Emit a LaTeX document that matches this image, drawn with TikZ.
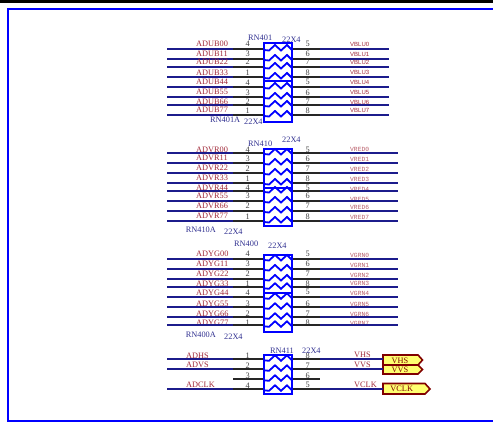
\documentclass[tikz,border=0pt]{standalone}
\usepackage{fontspec}
\setmainfont{Liberation Serif}
\newfontfamily\monof{Liberation Mono}
\newfontfamily\sansf{Liberation Sans}
\definecolor{netblue}{HTML}{1C1C8C}
\definecolor{partblue}{HTML}{0000FF}
\definecolor{lblred}{HTML}{A02838}
\definecolor{lblblue}{HTML}{303090}
\definecolor{flagred}{HTML}{800000}
\definecolor{flagfill}{HTML}{FFFF70}
\tikzset{
  wirenet/.style={draw=netblue,line width=2pt},
  wirepin/.style={draw=black!85,line width=2pt},
  partbox/.style={draw=partblue,line width=2.4pt,fill=white},
  zig/.style={draw=partblue,line width=1.8pt},
  frameline/.style={draw=partblue,line width=2.3pt},
  txt/.style={inner sep=0pt,font=\fontsize{8.3}{9}\selectfont},
  netlbl/.style={txt,anchor=west,text=lblred},
  pinlbl/.style={txt,text=black!75},
  reflbl/.style={txt,anchor=west,text=lblblue},
  smallsans/.style={inner sep=0pt,anchor=west,text=lblred,font=\sansf\fontsize{6}{6}\selectfont},
  smallmono/.style={inner sep=0pt,anchor=west,text=lblred!75,font=\monof\fontsize{6.3}{6}\selectfont},
  flag/.style={draw=flagred,line width=1.6pt,fill=flagfill},
}
% #1 id, #2 wire y, #3 left label, #4 label y, #5 left pin, #6 right pin, #7 right label, #8 right label y, #9 style
\newcommand{\pinrow}[9]{%
  \node[netlbl] (ln#1) at (196,#4) {#3};
  \node[pinlbl] (pl#1) at (247.7,#4) {#5};
  \node[pinlbl] (pr#1) at (307.7,#4) {#6};
  \node[#9] (rn#1) at (350,#8) {#7};
  \coordinate (la#1) at (167,#2);
  \coordinate (lb#1) at (233,#2);
  \coordinate (lc#1) at (264,#2);
  \coordinate (rc#1) at (292,#2);
  \coordinate (rb#1) at (320,#2);
  \coordinate (ra#1) at (\wireend,#2);
  \draw[wirenet] (la#1) -- (lb#1);
  \draw[wirenet] (rb#1) -- (ra#1);
  \draw[wirepin] (lb#1) -- (lc#1);
  \draw[wirepin] (rc#1) -- (rb#1);
}
\newcommand{\zigrow}[1]{%
  \draw[zig] (264,#1+1) -- (269,#1+1.5) -- (275,#1-4) -- (281,#1+1.5) -- (287,#1-4) -- (292,#1+1);
}
\begin{document}
\begin{tikzpicture}[x=1pt,y=-1pt]
\useasboundingbox (0,0) rectangle (493,428);
\fill[black] (0,0) rectangle (493,3);
\draw[frameline] (493,9.2) -- (8,9.2) -- (8,421) -- (493,421);

% block 1
\def\wireend{389}
\pinrow{a0}{49}{ADUB00}{44}{4}{5}{VBLU0}{44.7}{smallsans}
\pinrow{a1}{59}{ADUB11}{53.7}{3}{6}{VBLU1}{54.7}{smallsans}
\pinrow{a2}{67}{ADUB22}{62}{2}{7}{VBLU2}{62.7}{smallsans}
\pinrow{a3}{77}{ADUB33}{72.3}{1}{8}{VBLU3}{72.7}{smallsans}
\pinrow{a4}{87}{ADUB44}{82.3}{4}{5}{VBLU4}{82.7}{smallsans}
\pinrow{a5}{97}{ADUB55}{92.3}{3}{6}{VBLU5}{92.7}{smallsans}
\pinrow{a6}{105}{ADUB66}{102}{2}{7}{VBLU6}{102.7}{smallsans}
\pinrow{a7}{115}{ADUB77}{110.3}{1}{8}{VBLU7}{110.7}{smallsans}
\draw[partbox] (264,43) rectangle (292,122);
\draw[zig] (264,81) -- (292,81);
\foreach \yy in {49,59,67,77,87,97,105,115} {\zigrow{\yy}}
\node[reflbl] (r1a) at (248,38) {RN401};
\node[reflbl] (r1b) at (282,40) {22X4};
\node[reflbl] (r1c) at (210,120) {RN401A};
\node[reflbl] (r1d) at (244,122) {22X4};

% block 2
\def\wireend{398}
\pinrow{b0}{153}{ADVR00}{150}{4}{5}{VRED0}{149}{smallmono}
\pinrow{b1}{163}{ADVR11}{158.3}{3}{6}{VRED1}{159}{smallmono}
\pinrow{b2}{173}{ADVR22}{168.3}{2}{7}{VRED2}{169}{smallmono}
\pinrow{b3}{183}{ADVR33}{178.3}{1}{8}{VRED3}{179}{smallmono}
\pinrow{b4}{191}{ADVR44}{187.7}{4}{5}{VRED4}{189}{smallmono}
\pinrow{b5}{201}{ADVR55}{196}{3}{6}{VRED5}{199}{smallmono}
\pinrow{b6}{211}{ADVR66}{206}{2}{7}{VRED6}{207.3}{smallmono}
\pinrow{b7}{221}{ADVR77}{216.3}{1}{8}{VRED7}{217.3}{smallmono}
\draw[partbox] (264,149) rectangle (292,226);
\draw[zig] (264,188) -- (292,188);
\foreach \yy in {153,163,173,183,191,201,211,221} {\zigrow{\yy}}
\node[reflbl] (r2a) at (248,144) {RN410};
\node[reflbl] (r2b) at (282,140) {22X4};
\node[reflbl] (r2c) at (185.7,230) {RN410A};
\node[reflbl] (r2d) at (224,232) {22X4};

% block 3
\pinrow{c0}{259}{ADYG00}{254}{4}{5}{VGRN0}{255}{smallmono}
\pinrow{c1}{269}{ADYG11}{264}{3}{6}{VGRN1}{265}{smallmono}
\pinrow{c2}{279}{ADYG22}{274}{2}{7}{VGRN2}{275}{smallmono}
\pinrow{c3}{287.3}{ADYG33}{284}{1}{8}{VGRN3}{283.3}{smallmono}
\pinrow{c4}{297.3}{ADYG44}{292.3}{4}{5}{VGRN4}{293}{smallmono}
\pinrow{c5}{307.3}{ADYG55}{303.3}{3}{6}{VGRN5}{304}{smallmono}
\pinrow{c6}{317.3}{ADYG66}{313.3}{2}{7}{VGRN6}{314}{smallmono}
\pinrow{c7}{325.3}{ADYG77}{322.7}{1}{8}{VGRN7}{323.7}{smallmono}
\draw[partbox] (264,255) rectangle (292,332);
\draw[zig] (264,293) -- (292,293);
\foreach \yy in {259,269,279,287.3,297.3,307.3,317.3,325.3} {\zigrow{\yy}}
\node[reflbl] (r3a) at (234,244) {RN400};
\node[reflbl] (r3b) at (268,246) {22X4};
\node[reflbl] (r3c) at (185.7,335) {RN400A};
\node[reflbl] (r3d) at (224,337) {22X4};

% block 4
\path[flag] (383,355) -- (418,355) -- (422.5,360) -- (418,365) -- (383,365) -- cycle;
\path[flag] (383,365) -- (418,365) -- (422.5,369.5) -- (418,374) -- (383,374) -- cycle;
\path[flag] (383,383.5) -- (425,383.5) -- (430,389) -- (425,394) -- (383,394) -- cycle;
\node[txt,text=flagred] (fhs) at (400,361) {VHS};
\node[txt,text=flagred] (fvs) at (400,370) {VVS};
\node[txt,text=flagred] (fck) at (401.7,389) {VCLK};
\node[netlbl] (n1) at (186,355.3) {ADHS};
\node[netlbl] (n2) at (186,365.3) {ADVS};
\node[netlbl] (n3) at (186,385) {ADCLK};
\node[netlbl] (n4) at (354,355) {VHS};
\node[netlbl] (n5) at (354,365) {VVS};
\node[netlbl] (n6) at (354,385) {VCLK};
\node[pinlbl] (p1) at (247.7,355.3) {1};
\node[pinlbl] (p2) at (247.7,365.3) {2};
\node[pinlbl] (p3) at (247.7,375.3) {3};
\node[pinlbl] (p4) at (247.7,385.3) {4};
\node[pinlbl] (p8) at (307.7,356) {8};
\node[pinlbl] (p7) at (307.7,365.3) {7};
\node[pinlbl] (p6) at (307.7,375.3) {6};
\node[pinlbl] (p5) at (307.7,385.3) {5};
\coordinate (dla) at (167,359.3); \coordinate (dlb) at (233,359.3); \coordinate (dlc) at (264,359.3);
\coordinate (ela) at (167,369.3); \coordinate (elb) at (233,369.3); \coordinate (elc) at (264,369.3);
\coordinate (flb) at (233,379.3); \coordinate (flc) at (264,379.3);
\coordinate (gla) at (167,389.3); \coordinate (glb) at (233,389.3); \coordinate (glc) at (264,389.3);
\coordinate (drc) at (292,359.3); \coordinate (drb) at (320,359.3); \coordinate (dra) at (383,359.3);
\coordinate (erc) at (292,369.3); \coordinate (erb) at (320,369.3); \coordinate (era) at (383,369.3);
\coordinate (frc) at (292,379.3); \coordinate (frb) at (320,379.3);
\coordinate (grc) at (292,389.3); \coordinate (grb) at (320,389.3); \coordinate (gra) at (383,389.3);
\draw[wirenet] (dla) -- (dlb) (ela) -- (elb) (gla) -- (glb) (drb) -- (dra) (erb) -- (era) (grb) -- (gra);
\draw[wirepin] (dlb) -- (dlc) (elb) -- (elc) (flb) -- (flc) (glb) -- (glc) (drc) -- (drb) (erc) -- (erb) (frc) -- (frb) (grc) -- (grb);
\draw[partbox] (264,355) rectangle (292,394);
\foreach \yy in {359.3,369.3,379.3,389.3} {\zigrow{\yy}}
\node[reflbl] (r4a) at (270,351) {RN411};
\node[reflbl] (r4b) at (302,350.5) {22X4};
\end{tikzpicture}
\end{document}
